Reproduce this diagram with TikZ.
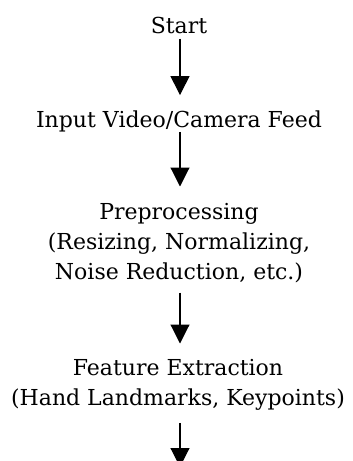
\documentclass[tikz,border=0pt]{standalone}
\usepackage{fontspec}
\setmainfont{DejaVu Serif}
\usetikzlibrary{arrows.meta}
\begin{document}
\begin{tikzpicture}[x=1pt,y=1pt,
  txt/.style={inner sep=0pt, align=center, font=\fontsize{22}{30}\selectfont},
  flow/.style={line width=1.1pt, -{Triangle[width=19pt,length=19pt]}}]
\useasboundingbox (0,0) rectangle (353,-461);
% process stages, top to bottom
\node[txt, anchor=base] (start) at (179,-33) {Start};
\node[txt, anchor=base] (input) at (179,-127) {Input Video/Camera Feed};
\node[txt, anchor=north] (prep) at (179,-203.5) {Preprocessing\\(Resizing, Normalizing,\\Noise Reduction, etc.)};
\node[txt, anchor=north] (feat) at (178,-359.5) {Feature Extraction\\(Hand Landmarks, Keypoints)};
\coordinate (next) at (180,-467);
% connectors
\draw[flow, shorten <=5pt, shorten >=15pt] (start.south -| 180,0) -- (input.north -| 180,0);
\draw[flow, shorten <=0pt, shorten >=17pt] (input.south -| 180,0) -- (prep.north -| 180,0);
\draw[flow, shorten <=9pt, shorten >=16pt] (prep.south -| 180,0) -- (feat.north -| 180,0);
\draw[flow, shorten <=12pt] (feat.south -| 180,0) -- (next);
\end{tikzpicture}
\end{document}
